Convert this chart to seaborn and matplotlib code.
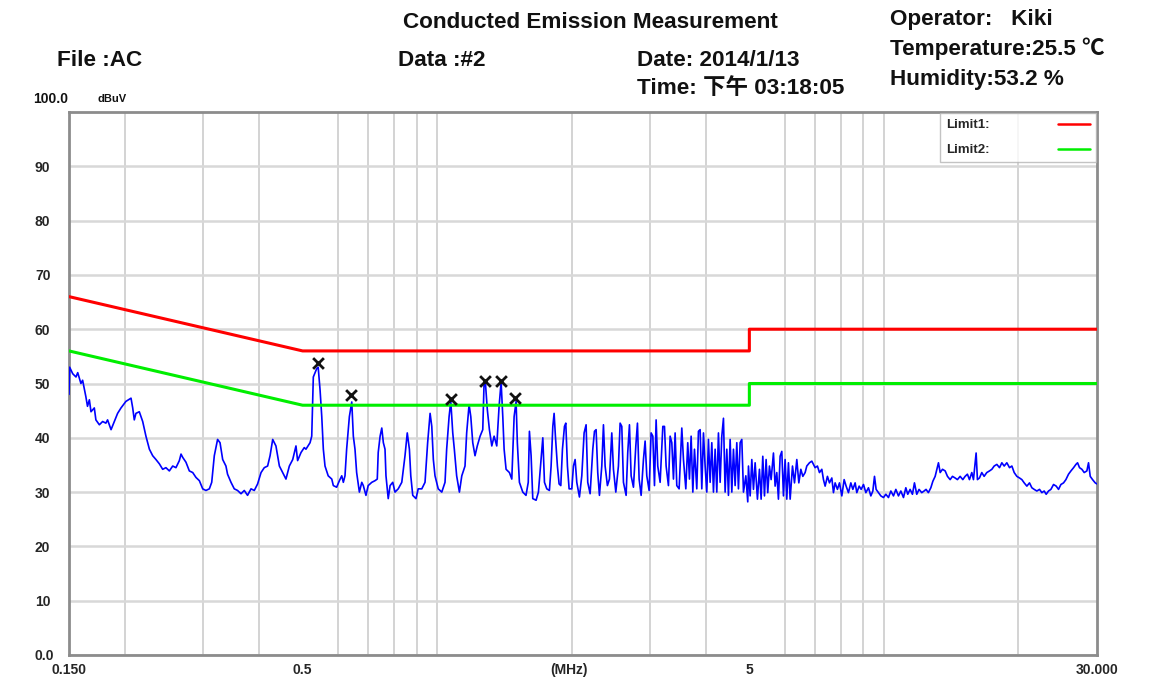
import numpy as np
import pandas as pd
import seaborn as sns
from matplotlib import pyplot as plt
from matplotlib.ticker import LogLocator, NullFormatter

trace_low = [
    (0.150, 48), (0.1505, 53), (0.1529, 51.8), (0.1555, 51.2), (0.1569, 52), (0.1595, 50),
    (0.1609, 50.6), (0.1636, 47.6), (0.1650, 45.8), (0.1666, 47), (0.1680, 44.8), (0.1709, 45.5),
    (0.1723, 43.3), (0.1754, 42.4), (0.1784, 43), (0.1814, 42.7), (0.1830, 43.3), (0.1863, 41.5),
    (0.1895, 43), (0.1927, 44.5), (0.1961, 45.5), (0.2011, 46.7), (0.2065, 47.3), (0.2083, 45.5),
    (0.2100, 43.3), (0.2118, 44.5), (0.2155, 44.8), (0.2193, 43), (0.2230, 40.3), (0.2270, 37.9),
    (0.2309, 36.7), (0.2348, 36), (0.2390, 35.2), (0.2431, 34.2), (0.2472, 34.5), (0.2516, 33.9),
    (0.2560, 34.8), (0.2603, 34.5), (0.2649, 35.8), (0.2672, 37), (0.2695, 36.4), (0.2741, 35.5),
    (0.2789, 33.9), (0.2838, 33.6), (0.2886, 32.7), (0.2937, 32.1), (0.2988, 30.6), (0.3038, 30.3),
    (0.3092, 30.6), (0.3130, 31.8), (0.3172, 36.7), (0.3226, 39.7), (0.3267, 39.1), (0.3312, 36),
    (0.3368, 34.8), (0.3396, 33.3), (0.3457, 31.8), (0.3516, 30.6), (0.3576, 30.3), (0.3640, 29.7),
    (0.3702, 30.3), (0.3765, 29.4), (0.3833, 30.6), (0.3898, 30.3), (0.3965, 31.5), (0.4036, 33.6),
    (0.4104, 34.5), (0.4175, 34.8), (0.4228, 36.7), (0.4286, 39.7), (0.4358, 38.5), (0.4436, 34.8),
    (0.4513, 33.6), (0.4589, 32.4), (0.4670, 34.8), (0.4752, 36), (0.4832, 38.5), (0.4873, 35.8),
    (0.4960, 37.3), (0.5043, 38.2), (0.5087, 37.9),
]
trace_mid = [
    (0.5196, 39.1), (0.5241, 40.3), (0.5284, 51.2), (0.5375, 52.7), (0.5418, 53), (0.5471, 48.8),
    (0.5519, 43.9), (0.5564, 37.9), (0.5612, 34.8), (0.5705, 33), (0.5811, 32.4), (0.5858, 31.2),
    (0.5959, 30.9), (0.6044, 32.1), (0.6118, 33), (0.6168, 31.8), (0.6221, 33), (0.6274, 37.9),
    (0.6363, 43.9), (0.6442, 46.6), (0.6494, 40.3), (0.6550, 37.9), (0.6606, 33.6), (0.6700, 30),
    (0.6783, 31.8), (0.6837, 31.2), (0.6931, 29.4), (0.7011, 31.2), (0.7142, 31.8), (0.7261, 32.1),
    (0.7347, 32.4), (0.7383, 37.3), (0.7455, 40.3), (0.7520, 41.8), (0.7581, 39.1), (0.7646, 37.9),
    (0.7684, 33), (0.7774, 28.8), (0.7849, 31.2), (0.7957, 31.8), (0.8050, 30), (0.8185, 30.6),
    (0.8336, 31.8), (0.8476, 36.7), (0.8575, 40.9), (0.8670, 37.9), (0.8732, 33), (0.8821, 29.4),
    (0.8969, 28.8), (0.9073, 30.6), (0.9242, 30.6), (0.9397, 31.8), (0.9525, 39.1), (0.9646, 44.5),
    (0.9730, 42.1), (0.9809, 36), (0.9893, 33), (1.0060, 30.6), (1.0245, 30), (1.0417, 31.8),
    (1.0506, 37.9), (1.0638, 43.9), (1.0732, 46.7), (1.0841, 40.9), (1.0929, 37.9), (1.1061, 33),
    (1.1219, 30), (1.1358, 33), (1.1548, 34.8), (1.1647, 40.9), (1.1793, 46.1), (1.1897, 43.9),
    (1.2018, 39.1), (1.2159, 36.7), (1.2301, 38.5), (1.2482, 40.3), (1.2654, 41.5), (1.2739, 50),
    (1.2824, 50.3), (1.2955, 45.2), (1.3095, 41.5), (1.3257, 38.5), (1.3417, 40.3), (1.3601, 38.5),
    (1.3766, 45.8), (1.3909, 50.3), (1.4030, 43.9), (1.4127, 37.9), (1.4270, 34.2), (1.4517, 33.6),
    (1.4697, 32.4), (1.4874, 43.9), (1.5025, 46.7), (1.5123, 39.1), (1.5285, 31.8), (1.5553, 30),
    (1.5813, 29.4), (1.5998, 31.8),
]
trace_comb = [
    (1.6095, 41.2), (1.6235, 36.7), (1.6375, 28.8), (1.6658, 28.5), (1.6859, 30), (1.7067, 35.5),
    (1.7244, 40), (1.7392, 31.8), (1.7603, 30.6), (1.7843, 30.3), (1.7998, 34.8), (1.8157, 42.1),
    (1.8278, 44.5), (1.8401, 40.3), (1.8591, 34.8), (1.8755, 31.5), (1.8920, 31.2), (1.9081, 37.9),
    (1.9280, 42.1), (1.9413, 42.7), (1.9578, 34.8), (1.9748, 30.6), (2.0023, 30.6), (2.0194, 34.8),
    (2.0368, 36), (2.0544, 31.8), (2.0827, 29.1), (2.1081, 33), (2.1335, 40.9), (2.1555, 42.4),
    (2.1738, 31.8), (2.2006, 29.7), (2.2312, 37.9), (2.2505, 41.2), (2.2695, 41.5), (2.2888, 33.6),
    (2.3089, 29.4), (2.3370, 34.8), (2.3571, 42.4), (2.3774, 34.8), (2.4057, 31.2), (2.4310, 32.4),
    (2.4606, 40.9), (2.4818, 34.2), (2.5121, 30), (2.5463, 34.8), (2.5686, 42.7), (2.5908, 42.1),
    (2.6131, 31.8), (2.6491, 29.4), (2.6716, 37.3), (2.6951, 42.4), (2.7185, 33), (2.7513, 30.9),
    (2.7849, 38.5), (2.8086, 42.7), (2.8328, 32.4), (2.8623, 29.4), (2.8968, 36), (2.9217, 39.4),
    (2.9470, 33), (2.9827, 30.3), (3.0137, 40.9), (3.0403, 40.3), (3.0662, 31.2), (3.0922, 43.3),
    (3.1184, 34.8), (3.1567, 31.8), (3.2010, 42.1), (3.2283, 42.1), (3.2557, 34.8), (3.2949, 31.2),
    (3.3238, 40.3), (3.3526, 39.1), (3.3813, 32.4), (3.4104, 40.9), (3.4398, 31.2), (3.4815, 30.6),
    (3.5299, 41.8), (3.5602, 36), (3.6037, 30.6), (3.6399, 39.1), (3.6718, 32.4), (3.7037, 40.3),
    (3.7363, 30), (3.7682, 37.9), (3.8133, 30.6), (3.8459, 41.2), (3.8796, 41.5), (3.9131, 30.6),
    (3.9467, 40.9), (3.9807, 34.8), (4.0150, 30), (4.0494, 39.7), (4.0848, 31.8), (4.1202, 39.1),
    (4.1555, 30), (4.1913, 37.9), (4.2275, 30), (4.2636, 40.9), (4.3009, 31.8), (4.3382, 40.3),
    (4.3754, 43.6), (4.4130, 30), (4.4511, 37.9), (4.4892, 29.4), (4.5284, 39.7), (4.5676, 30),
    (4.6068, 37.9), (4.6465, 31.2), (4.6866, 39.1), (4.7266, 30.6), (4.7680, 39.1), (4.8092, 39.7),
    (4.8505, 30), (4.9098, 33), (4.9591, 28.2),
]
trace_high = [
    (4.9769, 34.8), (5.0202, 29.3), (5.0636, 36), (5.1071, 30.5), (5.1510, 35.4), (5.2125, 28.7),
    (5.2669, 34.2), (5.3127, 28.7), (5.3584, 36.6), (5.4052, 29.3), (5.4510, 36), (5.4972, 29.9),
    (5.5454, 34.8), (5.5936, 32.3), (5.6611, 37.2), (5.7098, 31.1), (5.7591, 33.6), (5.8084, 28.7),
    (5.8593, 36.6), (5.9100, 37.5), (5.9607, 29.3), (6.0120, 36), (6.0639, 28.7), (6.1158, 35.4),
    (6.1699, 28.7), (6.2448, 34.8), (6.3099, 31.7), (6.3854, 36), (6.452, 31.7), (6.5189, 34.2),
    (6.5867, 32.9), (6.6649, 33.6), (6.7224, 34.8), (6.8156, 35.4), (6.8986, 35.7), (6.9578, 35.1),
    (7.0176, 34.5), (7.1013, 34.8), (7.1762, 33.6), (7.2636, 34.2), (7.3259, 32.3), (7.3889, 31.1),
    (7.4771, 32.9), (7.5558, 31.7), (7.6478, 32.6), (7.7135, 29.9), (7.7798, 31.7), (7.8726, 30.5),
    (7.9555, 31.7), (8.0524, 29.3), (8.1493, 32.3), (8.2335, 31.1), (8.3328, 29.9), (8.4356, 31.7),
    (8.5234, 30.5), (8.6246, 31.7), (8.6990, 29.9), (8.805, 31.1), (8.8966, 30.5), (9.0040, 31.4),
    (9.1141, 29.9), (9.2382, 30.8), (9.3516, 29.3), (9.4489, 30.2), (9.5296, 32.9), (9.6102, 30.5),
    (9.7261, 29.9), (9.8469, 29.3), (9.9816, 29), (10.104, 29.6), (10.241, 29), (10.367, 30.2),
    (10.509, 29.3), (10.638, 30.5), (10.783, 29.3), (10.915, 30.2), (11.065, 29), (11.200, 30.8),
    (11.312, 29.6), (11.449, 30.5), (11.588, 29.6), (11.709, 31.7), (11.849, 29.6), (11.99, 30.5),
    (12.157, 29.9), (12.303, 30.2), (12.430, 30.5), (12.580, 29.9), (12.741, 30.8), (12.874, 32),
    (13.027, 32.9), (13.139, 34.2), (13.251, 35.4), (13.369, 33.6), (13.531, 34.2), (13.718, 33.9),
    (13.881, 32.9), (14.073, 32.3), (14.244, 32.9), (14.440, 32.6), (14.612, 32.3), (14.817, 32.9),
    (15.024, 32.3), (15.203, 32.9), (15.384, 33.3), (15.546, 32.3), (15.736, 33.6), (15.871, 32.3),
    (16.090, 37.2), (16.198, 32.3), (16.368, 32.6), (16.567, 33.6), (16.766, 32.9), (16.999, 33.6),
    (17.239, 33.9), (17.449, 34.2), (17.659, 34.8), (17.904, 35.1), (18.151, 34.5), (18.372, 35.4),
    (18.593, 34.8), (18.850, 35.4), (19.112, 34.5), (19.345, 34.8), (19.578, 33.6), (19.849, 32.9),
    (20.124, 32.6), (20.369, 32.3), (20.614, 31.7), (20.900, 31.1), (21.186, 31.7), (21.444, 30.8),
    (21.702, 30.5), (22.002, 30.2), (22.308, 30.5), (22.580, 29.9), (22.851, 30.2), (23.087, 29.6),
    (23.366, 30.2), (23.656, 30.5), (23.980, 31.4), (24.311, 31.1), (24.604, 30.5), (24.907, 31.4),
    (25.248, 31.7), (25.557, 32.3), (25.905, 33.3), (26.229, 33.9), (26.588, 34.5), (26.913, 35.1),
    (27.141, 35.4), (27.417, 34.5), (27.750, 34.2), (28.084, 33.6), (28.473, 33.9), (28.717, 35.4),
    (28.970, 32.9), (29.321, 32.3), (29.725, 31.7), (30.0, 31.5),
]

# limit lines (class B QP / AV)
limit1_mhz = [0.15, 0.5, 5, 5, 30]
limit1_dbuv = [66, 56, 56, 60, 60]
limit2_mhz = [0.15, 0.5, 5, 5, 30]
limit2_dbuv = [56, 46, 46, 50, 50]

# peak markers
peak_mhz = [0.5418, 0.6419, 1.0732, 1.2824, 1.3909, 1.4973]
peak_dbuv = [53.7, 47.9, 47.1, 50.5, 50.5, 47.3]

ytick_vals = [0, 10, 20, 30, 40, 50, 60, 70, 80, 90]
ytick_text = ['0.0', '10', '20', '30', '40', '50', '60', '70', '80', '90']
xtick_vals = [0.15, 0.5, 1.97, 5, 30]
xtick_text = ['0.150', '0.5', '(MHz)', '5', '30.000']

trace = pd.DataFrame(trace_low + trace_mid + trace_comb + trace_high, columns=['mhz', 'dbuv'])

sns.set_style('white')
plt.rcParams['font.family'] = ['Liberation Sans', 'Noto Sans CJK SC', 'DejaVu Sans']

fig = plt.figure(figsize=(11.64, 6.77), dpi=100)
ax = fig.add_axes([69 / 1164, 22 / 677, 1028 / 1164, 543 / 677])
ax.set_xscale('log')

sns.lineplot(data=trace, x='mhz', y='dbuv', color='#0000ff', lw=1.2,
             estimator=None, sort=False, ax=ax, zorder=3)
sns.lineplot(x=limit1_mhz, y=limit1_dbuv, color='#ff0000', lw=2.2,
             estimator=None, sort=False, label='Limit1:', ax=ax, zorder=4)
sns.lineplot(x=limit2_mhz, y=limit2_dbuv, color='#00ee00', lw=2.2,
             estimator=None, sort=False, label='Limit2:', ax=ax, zorder=4)
sns.scatterplot(x=peak_mhz, y=peak_dbuv, marker='x', color='#111111', s=60,
                linewidth=2, ax=ax, zorder=5, legend=False)

ax.set_xlim(0.15, 30)
ax.set_ylim(0, 100)
ax.set_xlabel('')
ax.set_ylabel('')

ax.xaxis.set_minor_locator(LogLocator(base=10, subs=np.arange(1, 10)))
ax.xaxis.set_minor_formatter(NullFormatter())
ax.set_xticks(xtick_vals)
ax.set_xticklabels(xtick_text, fontsize=10, fontweight='bold')
ax.set_yticks(ytick_vals)
ax.set_yticklabels(ytick_text, fontsize=10, fontweight='bold')
for lab in ax.get_yticklabels():
    lab.set_horizontalalignment('left')
ax.tick_params(axis='y', length=0, pad=24.5)
ax.tick_params(axis='x', which='both', length=0, pad=6)

ax.grid(False)
ax.grid(True, which='minor', axis='x', color='#c8c8c8', lw=1.1)
ax.grid(True, which='major', axis='y', color='#d8d8d8', lw=1.8)
for side in ax.spines.values():
    side.set_color('#8c8c8c')
    side.set_linewidth(2)

leg = ax.legend(loc='upper right', markerfirst=False, frameon=True, fancybox=False,
                borderaxespad=0.1, fontsize=9.5, handlelength=2.4, handletextpad=5.2,
                labelspacing=0.95, borderpad=0.45)
leg.get_frame().set_edgecolor('#b4b4b4')
leg.get_frame().set_linewidth(1)
for t in leg.get_texts():
    t.set_fontweight('bold')
for h in leg.get_lines():
    h.set_linewidth(1.8)

def head(x, y, s, size=16.2):
    fig.text(x / 1164, 1 - y / 677, s, ha='left', va='center',
             fontsize=size, fontweight='bold', color='#111111')

head(403, 22, 'Conducted Emission Measurement')
head(57, 60, 'File :AC')
head(398, 60, 'Data :#2')
head(637, 60, 'Date: 2014/1/13')
head(637, 89, 'Time: 下午 03:18:05')
head(890, 19, 'Operator:   Kiki')
head(890, 49, 'Temperature:25.5 ℃')
head(890, 79, 'Humidity:53.2 %')
head(33, 99, '100.0', size=10)
head(97, 99, 'dBuV', size=8)

fig.savefig('out.png', dpi=100)
